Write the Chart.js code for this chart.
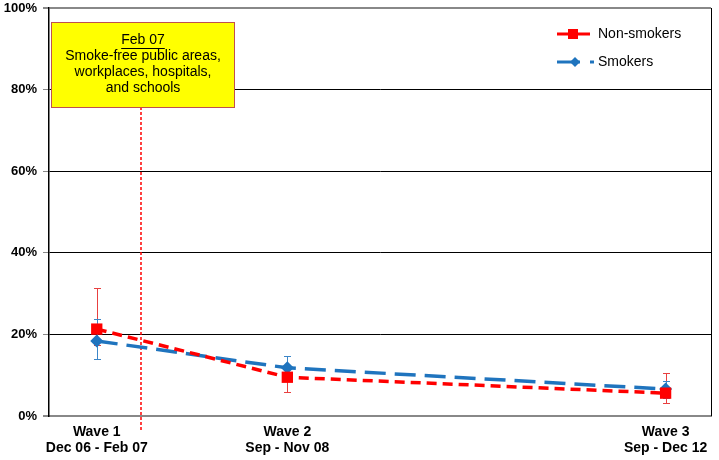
<!DOCTYPE html>
<html><head><meta charset="utf-8">
<script src="https://cdn.jsdelivr.net/npm/chart.js@4"></script>
<style>html,body{margin:0;padding:0;background:#fff}#wrap{width:719px;height:460px}</style>
</head><body><div id="wrap"><canvas id="c" width="719" height="460"></canvas></div>
<script>
// ---- data ----
const waveNames = ["Wave 1", "Wave 2", "Wave 3"];
const wavePeriods = ["Dec 06 - Feb 07", "Sep - Nov 08", "Sep - Dec 12"];
const waveX = [5.05, 25.2, 65.2];          // timeline position of each wave
const policyX = 9.7;                        // Feb 07 policy on the same timeline
const timelineMax = 70;
const nonSmokers = [21.3, 9.5, 5.6];
const nonSmokersLow = [17.5, 5.9, 3.2];
const nonSmokersHigh = [31.4, 12.5, 10.5];
const smokers = [18.4, 11.8, 6.6];
const smokersLow = [14.0, 9.5, 4.5];
const smokersHigh = [23.8, 14.7, 8.6];
const yTicks = [0, 20, 40, 60, 80, 100];
const policyTitle = "Feb 07";
const policyLines = ["Smoke-free public areas,", "workplaces, hospitals,", "and schools"];

const RED = "#FF0000", BLUE = "#1F74BE";
const FONT = "'Liberation Sans', Arial, sans-serif";

const errPlugin = {
  id: 'err',
  beforeDatasetsDraw(chart) {
    const ctx = chart.ctx, xs = chart.scales.x, ys = chart.scales.y;
    const sets = [[nonSmokersLow, nonSmokersHigh, "#E84040"], [smokersLow, smokersHigh, "#3C86C8"]];
    ctx.save();
    sets.forEach(([lo, hi, col]) => {
      ctx.strokeStyle = col; ctx.lineWidth = 1;
      waveX.forEach((xv, i) => {
        const x = Math.round(xs.getPixelForValue(xv)) + 0.5;
        const y1 = Math.round(ys.getPixelForValue(lo[i])) + 0.5, y2 = Math.round(ys.getPixelForValue(hi[i])) + 0.5;
        ctx.beginPath();
        ctx.moveTo(x, y1); ctx.lineTo(x, y2);
        ctx.moveTo(x - 3.5, y1); ctx.lineTo(x + 3.5, y1);
        ctx.moveTo(x - 3.5, y2); ctx.lineTo(x + 3.5, y2);
        ctx.stroke();
      });
    });
    ctx.restore();
  }
};

const decoPlugin = {
  id: 'deco',
  beforeDatasetsDraw(chart) {
    const ctx = chart.ctx, a = chart.chartArea, xs = chart.scales.x;
    ctx.save();
    // right border
    ctx.strokeStyle = "#000"; ctx.lineWidth = 1;
    ctx.beginPath(); ctx.moveTo(a.right + 0.5, a.top); ctx.lineTo(a.right + 0.5, a.bottom); ctx.stroke();
    // policy dotted line
    const px = Math.round(xs.getPixelForValue(policyX));
    ctx.strokeStyle = "#FF0000"; ctx.lineWidth = 1.5; ctx.setLineDash([3, 2]);
    ctx.beginPath(); ctx.moveTo(px, a.top + 99); ctx.lineTo(px, a.bottom + 16); ctx.stroke();
    ctx.restore();
  },
  afterDraw(chart) {
    const ctx = chart.ctx, a = chart.chartArea, xs = chart.scales.x;
    const px = xs.getPixelForValue(policyX);
    ctx.save();
    // annotation box
    const bw = 183, bh = 85, bx = Math.round(px - bw / 2 + 2) + 0.5, by = a.top + 14.5;
    ctx.fillStyle = "#FFFF00"; ctx.fillRect(bx, by, bw, bh);
    ctx.strokeStyle = "#C0504D"; ctx.lineWidth = 1; ctx.strokeRect(bx, by, bw, bh);
    ctx.fillStyle = "#000"; ctx.font = "14px " + FONT; ctx.textAlign = "center"; ctx.textBaseline = "middle";
    const cx = bx + bw / 2;
    ctx.fillText(policyTitle, cx, by + 18);
    const tw = ctx.measureText(policyTitle).width;
    ctx.strokeStyle = "#000";
    ctx.beginPath(); ctx.moveTo(cx - tw / 2, Math.round(by + 25) + 0.5); ctx.lineTo(cx + tw / 2, Math.round(by + 25) + 0.5); ctx.stroke();
    policyLines.forEach((t, i) => ctx.fillText(t, cx, by + 34 + i * 16));
    // legend
    const items = [
      { label: chart.data.datasets[0].label, col: RED, shape: 'sq', y: a.top + 26 },
      { label: chart.data.datasets[1].label, col: BLUE, shape: 'dia', y: a.top + 54 }
    ];
    const lx = a.left + 508;
    ctx.font = "14px " + FONT; ctx.textAlign = "left";
    items.forEach(it => {
      ctx.strokeStyle = it.col; ctx.fillStyle = it.col; ctx.lineWidth = 3;
      if (it.shape === 'sq') {
        ctx.beginPath(); ctx.moveTo(lx, it.y); ctx.lineTo(lx + 33, it.y); ctx.stroke();
        ctx.fillRect(lx + 11, it.y - 5, 10, 10);
      } else {
        ctx.beginPath(); ctx.moveTo(lx, it.y); ctx.lineTo(lx + 23, it.y); ctx.stroke();
        ctx.beginPath(); ctx.moveTo(lx + 33, it.y); ctx.lineTo(lx + 37, it.y); ctx.stroke();
        ctx.beginPath(); ctx.moveTo(lx + 18, it.y - 5); ctx.lineTo(lx + 23, it.y); ctx.lineTo(lx + 18, it.y + 5); ctx.lineTo(lx + 13, it.y); ctx.closePath(); ctx.fill();
      }
      ctx.fillStyle = "#000";
      ctx.fillText(it.label, lx + 41, it.y);
    });
    ctx.restore();
  }
};

new Chart(document.getElementById('c'), {
  type: 'line',
  data: {
    datasets: [
      { label: 'Non-smokers', data: waveX.map((x, i) => ({ x, y: nonSmokers[i] })),
        borderColor: RED, backgroundColor: RED, borderWidth: 3.5, borderDash: [10, 6],
        pointStyle: 'rect', pointRadius: 8, pointBorderWidth: 0, pointBackgroundColor: RED },
      { label: 'Smokers', data: waveX.map((x, i) => ({ x, y: smokers[i] })),
        borderColor: BLUE, backgroundColor: BLUE, borderWidth: 3.5, borderDash: [21, 9],
        pointStyle: 'rectRot', pointRadius: 6.5, pointBorderWidth: 0, pointBackgroundColor: BLUE }
    ]
  },
  plugins: [decoPlugin, errPlugin],
  options: {
    responsive: false, animation: false,
    layout: { padding: { top: 8, right: 5, left: 0, bottom: 0 } },
    plugins: { legend: { display: false }, tooltip: { enabled: false } },
    scales: {
      x: {
        type: 'linear', min: 0, max: timelineMax,
        afterBuildTicks: s => { s.ticks = waveX.map(v => ({ value: v })); },
        afterFit: s => { s.height = 44; s.paddingLeft = 0; s.paddingRight = 0; },
        grid: { display: false, drawTicks: false },
        border: { display: true, color: '#888', width: 2 },
        ticks: {
          autoSkip: false, maxRotation: 0, padding: 8, color: '#000',
          font: { family: FONT, size: 14, weight: 'bold', lineHeight: 1.15 },
          callback: (v, i) => [waveNames[i], wavePeriods[i]]
        }
      },
      y: {
        min: 0, max: 100,
        afterBuildTicks: s => { s.ticks = yTicks.map(v => ({ value: v })); },
        afterFit: s => { s.width = 49; s.paddingTop = 0; s.paddingBottom = 0; },
        grid: {
          color: c => (c.tick && (c.tick.value === 0 || c.tick.value === 100)) ? '#888' : '#000',
          lineWidth: c => (c.tick && (c.tick.value === 0 || c.tick.value === 100)) ? 2 : 1,
          tickLength: 6, tickColor: '#888'
        },
        border: { display: true, color: '#000', width: 1.5 },
        ticks: {
          padding: 6, color: '#000',
          font: { family: FONT, size: 13, weight: 'bold' },
          callback: v => v + '%'
        }
      }
    }
  }
});
</script></body></html>
